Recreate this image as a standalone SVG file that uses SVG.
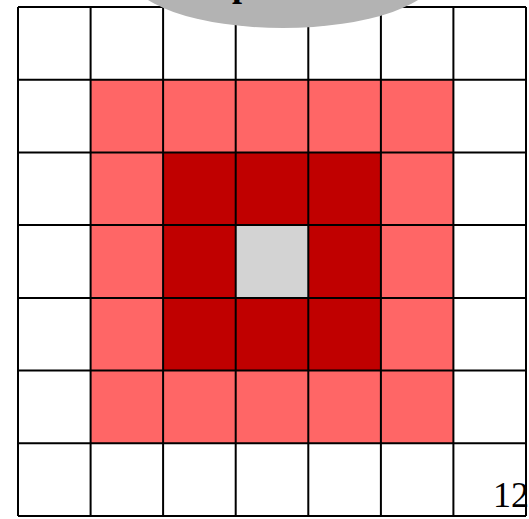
<svg xmlns="http://www.w3.org/2000/svg" width="529" height="519" viewBox="0 0 529 519">
<style>
.l1{fill:#ff6666}
.l2{fill:#c00000}
.c{fill:#d3d3d3}
.g{stroke:#000;stroke-width:2;fill:none}
.t{font-family:"Liberation Serif","Times New Roman",serif;fill:#000}
</style>
<rect x="0" y="0" width="529" height="519" fill="#fff"/>
<g id="cells">
<rect class="l1" x="90.6" y="79.7" width="362.8" height="363.6"/>
<rect class="l2" x="163.1" y="152.4" width="217.8" height="218.2"/>
<rect class="c" x="235.7" y="225.1" width="72.6" height="72.8"/>
</g>
<g id="grid" class="g">
<path d="M18,7V516M90.6,7V516M163.1,7V516M235.7,7V516M308.3,7V516M380.9,7V516M453.4,7V516M526,7V516"/>
<path d="M18,7H526M18,79.7H526M18,152.4H526M18,225.1H526M18,297.9H526M18,370.6H526M18,443.3H526M18,516H526"/>
</g>
<g id="callout">
<ellipse cx="283" cy="-27" rx="155" ry="55" fill="#b3b3b3"/>
<text class="t" x="232" y="-4" font-size="36" font-weight="bold">p</text>
</g>
<text class="t" x="493" y="507" font-size="36">12</text>
</svg>
